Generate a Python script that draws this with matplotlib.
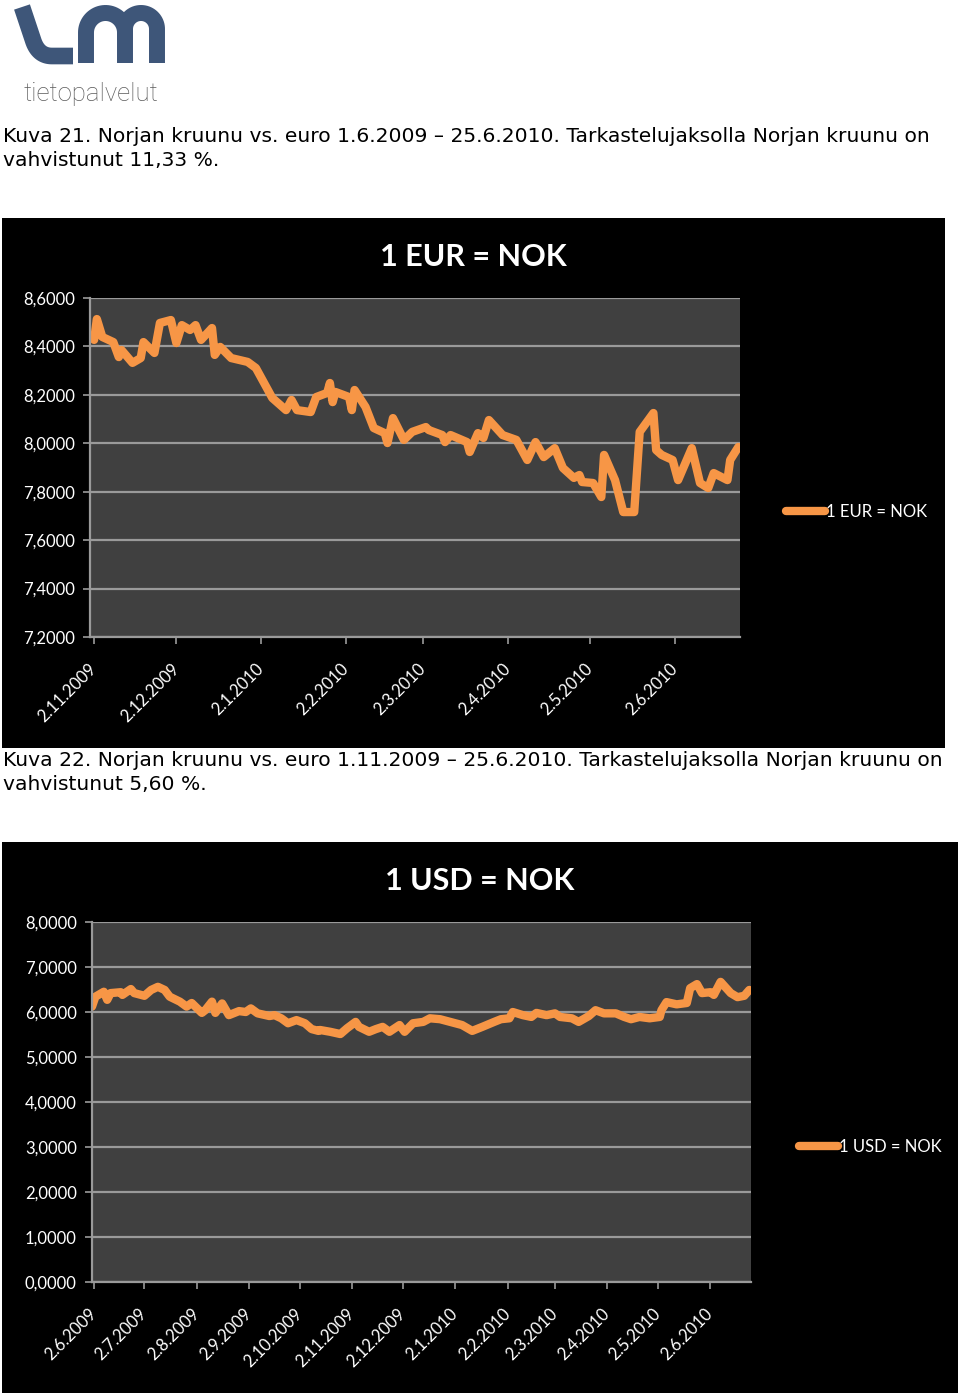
import matplotlib
matplotlib.use("Agg")
import matplotlib.pyplot as plt
import matplotlib.dates as mdates
from matplotlib.ticker import FuncFormatter, MultipleLocator
import numpy as np
import pandas as pd

# EUR/NOK 1.11.2009 - 25.6.2010
eur_dates = ["2009-11-02", "2009-11-03", "2009-11-05", "2009-11-09", "2009-11-11", "2009-11-12",
             "2009-11-16", "2009-11-19", "2009-11-20", "2009-11-24", "2009-11-26", "2009-11-30",
             "2009-12-02", "2009-12-04", "2009-12-07", "2009-12-09", "2009-12-11", "2009-12-15",
             "2009-12-16", "2009-12-18", "2009-12-22", "2009-12-28", "2009-12-31",
             "2010-01-06", "2010-01-11", "2010-01-13", "2010-01-15", "2010-01-20", "2010-01-22",
             "2010-01-26", "2010-01-27", "2010-01-28", "2010-01-29",
             "2010-02-03", "2010-02-04", "2010-02-05", "2010-02-09", "2010-02-12", "2010-02-16",
             "2010-02-17", "2010-02-19", "2010-02-23", "2010-02-26",
             "2010-03-03", "2010-03-04", "2010-03-09", "2010-03-10", "2010-03-12", "2010-03-18",
             "2010-03-19", "2010-03-22", "2010-03-24", "2010-03-26", "2010-03-31",
             "2010-04-05", "2010-04-09", "2010-04-12", "2010-04-15", "2010-04-19", "2010-04-22",
             "2010-04-26", "2010-04-28", "2010-04-29",
             "2010-05-03", "2010-05-06", "2010-05-07", "2010-05-11", "2010-05-14", "2010-05-18",
             "2010-05-20", "2010-05-25", "2010-05-26", "2010-05-28",
             "2010-06-01", "2010-06-03", "2010-06-08", "2010-06-11", "2010-06-14", "2010-06-16",
             "2010-06-21", "2010-06-22", "2010-06-25"]
eur_values = [8.427, 8.513, 8.439, 8.418, 8.356, 8.385, 8.332, 8.352, 8.418, 8.373,
              8.497, 8.509, 8.414, 8.488, 8.468, 8.488, 8.427, 8.476, 8.365, 8.398,
              8.352, 8.336, 8.311, 8.187, 8.137, 8.179, 8.137, 8.129, 8.191, 8.208,
              8.249, 8.170, 8.212, 8.191, 8.137, 8.220, 8.150, 8.063, 8.042, 8.001,
              8.104, 8.014, 8.047, 8.067, 8.055, 8.034, 8.005, 8.034, 8.005, 7.964,
              8.042, 8.022, 8.096, 8.034, 8.014, 7.931, 8.005, 7.943, 7.980, 7.898,
              7.857, 7.869, 7.840, 7.836, 7.778, 7.952, 7.848, 7.716, 7.716, 8.047,
              8.125, 7.972, 7.952, 7.931, 7.848, 7.980, 7.836, 7.815, 7.877, 7.848,
              7.931, 7.985]

# USD/NOK 1.6.2009 - 25.6.2010
usd_dates = ["2009-06-01", "2009-06-03", "2009-06-08", "2009-06-10", "2009-06-12", "2009-06-18",
             "2009-06-19", "2009-06-24", "2009-06-26", "2009-07-02", "2009-07-06", "2009-07-10",
             "2009-07-14", "2009-07-17", "2009-07-23", "2009-07-27", "2009-07-30", "2009-08-05",
             "2009-08-07", "2009-08-11", "2009-08-13", "2009-08-17", "2009-08-21", "2009-08-27",
             "2009-08-31", "2009-09-03", "2009-09-07", "2009-09-14", "2009-09-17", "2009-09-21",
             "2009-09-25", "2009-09-30", "2009-10-05", "2009-10-09", "2009-10-13", "2009-10-14",
             "2009-10-20", "2009-10-26", "2009-10-30", "2009-11-04", "2009-11-06", "2009-11-12",
             "2009-11-16", "2009-11-20", "2009-11-24", "2009-11-30", "2009-12-03", "2009-12-08",
             "2009-12-14", "2009-12-18", "2009-12-24", "2009-12-30", "2010-01-06", "2010-01-12",
             "2010-01-18", "2010-01-25", "2010-01-29", "2010-02-03", "2010-02-05", "2010-02-11",
             "2010-02-16", "2010-02-19", "2010-02-25", "2010-03-02", "2010-03-05", "2010-03-12",
             "2010-03-16", "2010-03-22", "2010-03-26", "2010-03-31", "2010-04-07", "2010-04-12",
             "2010-04-16", "2010-04-21", "2010-04-27", "2010-05-03", "2010-05-04", "2010-05-07",
             "2010-05-13", "2010-05-19", "2010-05-21", "2010-05-25", "2010-05-28", "2010-06-02",
             "2010-06-04", "2010-06-08", "2010-06-14", "2010-06-18", "2010-06-22", "2010-06-25"]
usd_values = [6.12, 6.34, 6.45, 6.27, 6.42, 6.44, 6.38, 6.51, 6.42, 6.36,
              6.49, 6.56, 6.49, 6.34, 6.23, 6.12, 6.20, 5.98, 6.04, 6.23,
              5.98, 6.19, 5.93, 6.02, 6.00, 6.08, 5.97, 5.91, 5.93, 5.86,
              5.75, 5.82, 5.75, 5.62, 5.58, 5.60, 5.56, 5.51, 5.64, 5.78,
              5.67, 5.56, 5.62, 5.67, 5.56, 5.71, 5.56, 5.75, 5.78, 5.86,
              5.84, 5.78, 5.71, 5.58, 5.67, 5.78, 5.84, 5.86, 6.00, 5.93,
              5.89, 5.98, 5.93, 5.97, 5.89, 5.86, 5.78, 5.91, 6.04, 5.97,
              5.97, 5.89, 5.84, 5.89, 5.86, 5.89, 6.04, 6.22, 6.17, 6.20,
              6.53, 6.62, 6.42, 6.44, 6.38, 6.67, 6.42, 6.33, 6.36, 6.49]

caption1 = ["Kuva 21. Norjan kruunu vs. euro 1.6.2009 \u2013 25.6.2010. Tarkastelujaksolla Norjan kruunu on",
            "vahvistunut 11,33 %."]
caption2 = ["Kuva 22. Norjan kruunu vs. euro 1.11.2009 \u2013 25.6.2010. Tarkastelujaksolla Norjan kruunu on",
            "vahvistunut 5,60 %."]

W, H = 960, 1396
ORANGE = "#F79646"
GRID = "#9a9a9a"
CHART_FONT = "Lato"

fig = plt.figure(figsize=(W / 100, H / 100), dpi=100)
fig.patch.set_facecolor("white")


def px_axes(x0, y0, x1, y1, **kw):
    # axes from pixel box (y measured from the top)
    return fig.add_axes([x0 / W, 1 - y1 / H, (x1 - x0) / W, (y1 - y0) / H], **kw)


def fx(x):
    return x / W


def fy(y):
    return 1 - y / H


# overlay for the logo
logo = px_axes(0, 0, W, H)
logo.set_xlim(0, W)
logo.set_ylim(H, 0)
logo.axis("off")
navy = "#3e5679"
t = np.linspace(0, 1, 30)
# "L"
lx = np.concatenate([[22, 33], (1 - t) ** 2 * 33 + 2 * (1 - t) * t * 38 + t ** 2 * 52, [73]])
ly = np.concatenate([[7, 40], (1 - t) ** 2 * 40 + 2 * (1 - t) * t * 56 + t ** 2 * 56, [56]])
logo.plot(lx, ly, color=navy, lw=12, solid_capstyle="butt", solid_joinstyle="round")
# "m"
a = np.linspace(np.pi, 0, 40)
m1x = np.concatenate([[86], 105.5 + 19.5 * np.cos(a), [125]])
m1y = np.concatenate([[63], 32.5 - 19.5 * np.sin(a), [63]])
m2x = np.concatenate([[125], 141 + 16 * np.cos(a), [157]])
m2y = np.concatenate([[40], 29 - 16 * np.sin(a), [63]])
logo.plot(m1x, m1y, color=navy, lw=11.5, solid_capstyle="butt")
logo.plot(m2x, m2y, color=navy, lw=11.5, solid_capstyle="butt")
fig.text(fx(24), fy(101), "tietopalvelut", fontsize=18.5, family="Roboto", fontweight="light",
         color="#5a5a5a", ha="left", va="baseline")

# captions
for lines, y in ((caption1, 137), (caption2, 761)):
    for i, line in enumerate(lines):
        fig.text(fx(3), fy(y + 23 * i), line, fontsize=14.6, family="DejaVu Sans",
                 color="black", ha="left", va="center")


def date_label(v, pos):
    d = mdates.num2date(v)
    return f"{d.day}.{d.month}.{d.year}"


def draw_chart(box, plot_box, dates, values, ylim, ystep, xlim, title, title_y, legend_y,
               legend_x):
    bg = px_axes(*box)
    bg.set_facecolor("black")
    bg.set_xticks([])
    bg.set_yticks([])
    for s in bg.spines.values():
        s.set_visible(False)

    ax = px_axes(*plot_box)
    ax.set_facecolor("#404040")
    x = pd.to_datetime(dates)
    line, = ax.plot(x, values, color=ORANGE, lw=6, solid_joinstyle="round",
                    solid_capstyle="round", label=title)
    ax.set_ylim(*ylim)
    ax.set_xlim(pd.Timestamp(xlim[0]), pd.Timestamp(xlim[1]))
    ax.yaxis.set_major_locator(MultipleLocator(ystep))
    ax.yaxis.set_major_formatter(FuncFormatter(lambda v, p: f"{v:.4f}".replace(".", ",")))
    ax.xaxis.set_major_locator(mdates.MonthLocator(bymonthday=2))
    ax.xaxis.set_major_formatter(FuncFormatter(date_label))
    ax.grid(axis="y", color=GRID, lw=1.6)
    ax.set_axisbelow(True)
    for side in ("top", "right"):
        ax.spines[side].set_visible(False)
    for side in ("left", "bottom"):
        ax.spines[side].set_color(GRID)
        ax.spines[side].set_linewidth(1.6)
    ax.tick_params(axis="y", colors=GRID, length=5, width=1.2, pad=6, labelcolor="white",
                   labelsize=12)
    ax.tick_params(axis="x", colors=GRID, length=5, width=1.2, pad=16, labelcolor="white",
                   labelsize=12)
    for lab in ax.get_yticklabels():
        lab.set_family(CHART_FONT)
    for lab in ax.get_xticklabels():
        lab.set_family(CHART_FONT)
        lab.set_rotation(45)
        lab.set_ha("right")
        lab.set_va("center")
        lab.set_rotation_mode("anchor")

    fig.text(fx((box[0] + box[2]) / 2), fy(title_y + 2), title, fontsize=22, family=CHART_FONT,
             fontweight="bold", color="white", ha="center", va="center")
    leg = fig.legend(handles=[line], loc="center left",
                     bbox_to_anchor=(fx(legend_x), fy(legend_y)), frameon=False,
                     handlelength=2.35, handletextpad=0.05, borderaxespad=0,
                     prop={"family": CHART_FONT, "size": 12})
    for txt in leg.get_texts():
        txt.set_color("white")
    return ax


draw_chart((2, 218, 945, 748), (90, 298, 740, 637), eur_dates, eur_values,
           (7.2, 8.6), 0.2, ("2009-10-31 12:00", "2010-06-25 14:00"),
           "1 EUR = NOK", 255, 512, 779)
draw_chart((2, 842, 958, 1393), (92, 922, 751, 1282), usd_dates, usd_values,
           (0, 8), 1.0, ("2009-06-01 00:00", "2010-06-26 00:00"),
           "1 USD = NOK", 879, 1147, 792)

fig.savefig("out.png", dpi=100, facecolor=fig.get_facecolor())
